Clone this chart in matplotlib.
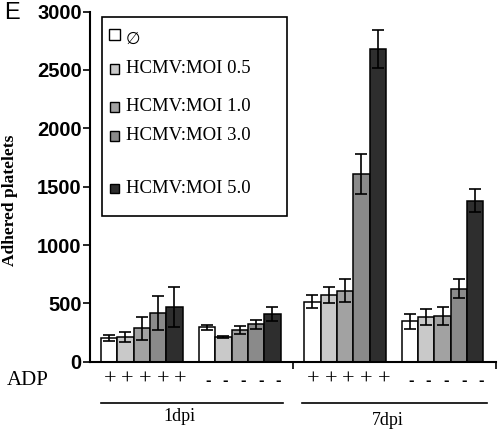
import matplotlib
matplotlib.use("Agg")
import matplotlib.pyplot as plt
import matplotlib.transforms as mtransforms
from matplotlib.patches import Rectangle
import numpy as np

# ---- data ----
conditions = ["1dpi ADP+", "1dpi ADP-", "7dpi ADP+", "7dpi ADP-"]
series_labels = ["\u2205", "HCMV:MOI 0.5", "HCMV:MOI 1.0", "HCMV:MOI 3.0", "HCMV:MOI 5.0"]
moi_0 = [200, 295, 515, 345]
moi_05 = [210, 210, 570, 385]
moi_10 = [285, 270, 610, 390]
moi_30 = [420, 320, 1610, 625]
moi_50 = [470, 410, 2680, 1380]
err_0 = [25, 22, 55, 65]
err_05 = [45, 8, 68, 70]
err_10 = [95, 35, 95, 75]
err_30 = [145, 40, 170, 80]
err_50 = [170, 58, 165, 100]
adp_signs = ["+++++", "-----", "+++++", "-----"]
dpi_labels = ["1dpi", "7dpi"]
yticks = [0, 500, 1000, 1500, 2000, 2500, 3000]

values = [moi_0, moi_05, moi_10, moi_30, moi_50]
errors = [err_0, err_05, err_10, err_30, err_50]
colors = ["#ffffff", "#c9c9c9", "#a2a2a2", "#8a8a8a", "#2e2e2e"]

serif = ["Liberation Serif", "DejaVu Serif", "DejaVu Sans"]
sans = ["Liberation Sans", "DejaVu Sans"]

fig = plt.figure(figsize=(5, 4.4), dpi=100)
ax = fig.add_axes([0.18, 0.178, 0.812, 0.7955])

group_starts = [0.67, 6.67, 13.12, 19.09]
for s in range(5):
    xs = [g + s + 0.5 for g in group_starts]
    ax.bar(xs, values[s], width=1.0, color=colors[s], edgecolor="black",
           linewidth=1.1, zorder=2)
    ax.errorbar(xs, values[s], yerr=errors[s], fmt="none", ecolor="black",
                elinewidth=1.2, capsize=4, capthick=1.2, zorder=3)

ax.set_xlim(0, 24.86)
ax.set_ylim(0, 3000)
ax.set_yticks(yticks)
ax.set_yticklabels([str(t) for t in yticks], fontfamily=sans, fontweight="bold",
                   fontsize=14.5)
ax.set_xticks([12.43, 24.86])
ax.set_xticklabels([])
ax.tick_params(axis="both", direction="out", length=5, width=1.2, pad=1)
for sp in ["top", "right"]:
    ax.spines[sp].set_visible(False)
for sp in ["left", "bottom"]:
    ax.spines[sp].set_linewidth(1.5)

ax.set_ylabel("Adhered platelets", fontfamily=serif, fontweight="bold",
              fontsize=12.5, labelpad=4)
ax.yaxis.set_label_coords(-0.178, 0.46)

# Panel letter
fig.text(0.008, 0.97, "E", fontfamily=sans, fontsize=17, va="center", ha="left")

# Legend (manual)
ax.add_patch(Rectangle((0.0288, 0.417), 0.457, 0.567, transform=ax.transAxes,
                       facecolor="white", edgecolor="black", linewidth=1.2,
                       zorder=4))
entry_y = [0.9354, 0.8363, 0.7286, 0.6449, 0.4951]
for s in range(5):
    sz = 0.028 if s == 0 else 0.024
    ax.add_patch(Rectangle((0.0603 - sz / 2, entry_y[s] - sz * 406 / 350 / 2),
                           sz, sz * 406 / 350, transform=ax.transAxes,
                           facecolor=colors[s], edgecolor="black", linewidth=1.0,
                           zorder=5))
    ax.text(0.0887, entry_y[s] - (0.012 if s == 0 else 0), series_labels[s],
            transform=ax.transAxes,
            fontfamily=["DejaVu Sans"] if s == 0 else serif,
            fontsize=12 if s == 0 else 13.5,
            va="center", ha="left", zorder=6)

# ADP row
trans = mtransforms.blended_transform_factory(ax.transData, ax.transAxes)
y_sign = (361.7 - 380.5) / 350
fig.text(0.014, 1 - 380.5 / 440, "ADP", fontfamily=serif, fontsize=15,
         va="center", ha="left")
for g, signs in zip(group_starts, adp_signs):
    step = 1.08
    for i, ch in enumerate(signs):
        x = g + 0.5 + 0.05 + i * step
        if ch == "+":
            ax.text(x, y_sign, "+", transform=trans, fontfamily=serif,
                    fontsize=16, va="center", ha="center", clip_on=False)
        else:
            ax.text(x, y_sign, "-", transform=trans, fontfamily=sans,
                    fontsize=12, fontweight="bold", va="center", ha="center",
                    clip_on=False)

# Group lines and labels
y_line = (361.7 - 402.7) / 350
ax.plot([0.67, 11.82], [y_line, y_line], transform=trans, color="black",
        linewidth=1.2, clip_on=False)
ax.plot([12.96, 24.3], [y_line, y_line], transform=trans, color="black",
        linewidth=1.2, clip_on=False)
ax.text(5.45, (361.7 - 416.7) / 350, dpi_labels[0], transform=trans,
        fontfamily=serif, fontsize=13, va="center", ha="center", clip_on=False)
ax.text(18.25, (361.7 - 420.5) / 350, dpi_labels[1], transform=trans,
        fontfamily=serif, fontsize=13, va="center", ha="center", clip_on=False)

fig.savefig("out.png", dpi=100)
